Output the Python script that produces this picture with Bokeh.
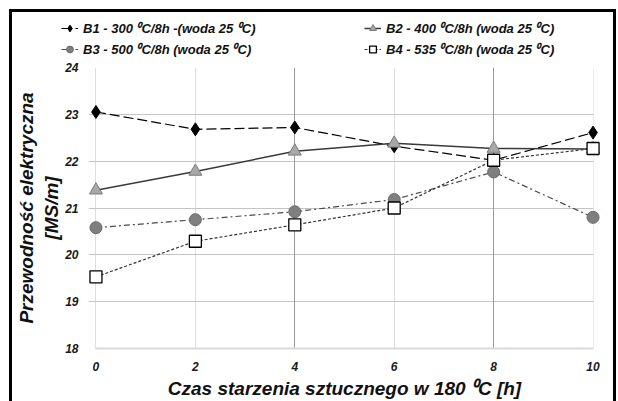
from bokeh.plotting import figure
from bokeh.layouts import column
from bokeh.models import Legend, LegendItem, FixedTicker, Grid, Range1d, BoxAnnotation
from bokeh.embed import file_html
from bokeh.resources import INLINE

hours = [0, 2, 4, 6, 8, 10]
b1 = [23.05, 22.68, 22.72, 22.32, 22.02, 22.61]
b2 = [21.38, 21.78, 22.21, 22.38, 22.27, 22.26]
b3 = [20.58, 20.75, 20.92, 21.18, 21.77, 20.80]
b4 = [19.53, 20.29, 20.64, 21.00, 22.02, 22.27]
labels = ["B1 - 300 \u2070C/8h -(woda 25 \u2070C)", "B2 - 400 \u2070C/8h (woda 25 \u2070C)",
          "B3 - 500 \u2070C/8h (woda 25 \u2070C)", "B4 - 535 \u2070C/8h (woda 25 \u2070C)"]
x_ticks = [0, 2, 4, 6, 8, 10]
y_ticks = [18, 19, 20, 21, 22, 23, 24]

FONT = "Liberation Sans"

STYLES = [
    dict(line=dict(line_color="black", line_width=1.2, line_dash="10 4"),
         mark=dict(marker="diamond", size=13, fill_color="black", line_color="black")),
    dict(line=dict(line_color="#3a3a3a", line_width=1.5),
         mark=dict(marker="triangle", size=13, fill_color="#a8a8a8", line_color="#7a7a7a")),
    dict(line=dict(line_color="#4a4a4a", line_width=1.2, line_dash="6 3 2 3"),
         mark=dict(marker="circle", size=12, fill_color="#7f7f7f", line_color="#6a6a6a")),
    dict(line=dict(line_color="#333333", line_width=1.2, line_dash="3 2"),
         mark=dict(marker="square", size=12, fill_color="white", line_color="black", line_width=1.3)),
]
series = [b1, b2, b3, b4]

# ---- main chart ----
p = figure(width=601, height=339, min_border_left=76, min_border_right=13,
           min_border_top=5, min_border_bottom=53,
           x_range=Range1d(-0.15, 10.15), y_range=Range1d(18, 24),
           output_backend="svg", toolbar_location=None)
p.frame_align = False
p.outline_line_color = None
p.background_fill_color = "white"
p.border_fill_color = "white"

p.xaxis.ticker = FixedTicker(ticks=x_ticks)
p.yaxis.ticker = FixedTicker(ticks=y_ticks)
p.xaxis.bounds = (0, 10)
for ax in (p.xaxis, p.yaxis):
    ax.major_label_text_font = FONT
    ax.major_label_text_font_style = "bold italic"
    ax.major_label_text_font_size = "12px"
    ax.major_label_text_color = "#1a1a1a"
    ax.axis_label_text_font = FONT
    ax.axis_label_text_font_style = "bold italic"
    ax.axis_label_text_font_size = "19px"
    ax.axis_label_text_color = "#111111"
    ax.minor_tick_line_color = None
p.xaxis.axis_line_color = "#d9d9d9"
p.xaxis.axis_line_width = 2
p.xaxis.major_tick_line_color = None
p.xaxis.major_label_standoff = 7
p.yaxis.axis_line_color = None
p.yaxis.major_tick_line_color = None
p.yaxis.major_label_standoff = 4
p.xaxis.axis_label = "Czas starzenia sztucznego w 180 \u2070C [h]"
p.yaxis.axis_label = "Przewodność elektryczna\n[MS/m]"
p.xaxis.axis_label_standoff = 4
p.yaxis.axis_label_standoff = 0

p.ygrid.grid_line_color = "#c4c4c4"
p.xgrid.grid_line_color = "#dedede"
p.add_layout(Grid(dimension=0, ticker=FixedTicker(ticks=[4, 8]), grid_line_color="#9a9a9a"))
p.add_layout(BoxAnnotation(left=10.01, fill_color="white", fill_alpha=1,
                           line_color=None, level="underlay"))

for ys, st in zip(series, STYLES):
    p.line(hours, ys, **st["line"])
for ys, st in zip(series, STYLES):
    p.scatter(hours, ys, **st["mark"])

# ---- legend strip ----
lg = figure(width=601, height=50, min_border=0, x_axis_location=None, y_axis_location=None,
            x_range=Range1d(0, 1), y_range=Range1d(0, 1),
            output_backend="svg", toolbar_location=None)
lg.frame_align = False
lg.outline_line_color = None
lg.grid.visible = False
items = {}
for ys, st, lab in zip(series, STYLES, labels):
    rl = lg.line(hours, ys, **st["line"])
    rm = lg.scatter(hours, ys, **st["mark"])
    items[lab] = LegendItem(label=lab, renderers=[rl, rm])
order = [labels[0], labels[2], labels[1], labels[3]]  # legend fills column by column
legend = Legend(items=[items[k] for k in order], ncols=2, location=(49, 3),
                label_text_font=FONT, label_text_font_style="bold italic",
                label_text_font_size="13px", label_text_color="#111111",
                glyph_width=17, glyph_height=20, label_standoff=5, label_width=280,
                spacing=1, padding=4, margin=0, border_line_color=None,
                background_fill_alpha=0, label_height=14)
lg.add_layout(legend, "center")

layout = column(lg, p, spacing=0,
                styles={"border-top": "3px solid black", "border-left": "3px solid black",
                        "border-right": "3px solid black",
                        "margin-left": "9px", "margin-top": "9px"})

open("out.html", "w").write(file_html(layout, INLINE))
